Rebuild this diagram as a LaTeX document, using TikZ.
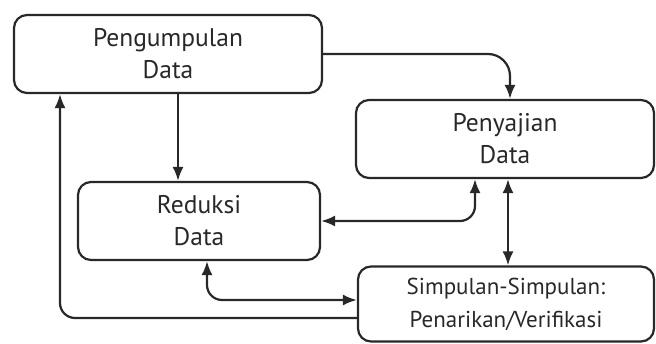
\documentclass[tikz,border=0pt]{standalone}
\usepackage{fontspec}
\setmainfont{PT Sans}
\usetikzlibrary{arrows.meta}

\definecolor{ink}{RGB}{40,40,40}

\tikzset{
  box/.style={draw=ink, line width=2.2pt, rounded corners=13pt, align=center,
    text=ink, font=\fontsize{25.5}{32}\selectfont, inner sep=0pt},
  smallbox/.style={box, font=\fontsize{23}{33}\selectfont},
  arr/.style={draw=ink, line width=2.2pt, -{Latex[length=14pt,width=11pt]}},
  darr/.style={draw=ink, line width=2.2pt, {Latex[length=14pt,width=11pt]}-{Latex[length=14pt,width=11pt]}}
}

\begin{document}
\begin{tikzpicture}[x=1pt,y=-1pt]
\useasboundingbox (0,0) rectangle (656,344);

% the four stages
\node[box, minimum width=308pt, minimum height=78pt] (peng) at (168,54) {Pengumpulan\\Data};
\node[box, minimum width=298pt, minimum height=78pt] (peny) at (505,139) {Penyajian\\Data};
\node[box, minimum width=242pt, minimum height=78pt] (red) at (199,221) {Reduksi\\Data};
\node[smallbox, minimum width=296pt, minimum height=75pt] (simp) at (506,304) {Simpulan-Simpulan:\\Penarikan/Verifikasi};

% connectors
\draw[arr, rounded corners=22pt] (peng.east) -| ([xshift=5pt]peny.north);
\draw[arr] ([xshift=10pt]peng.south) -- ([xshift=10pt]peng.south |- red.north);
\draw[darr, rounded corners=15pt] (red.east) -| ([xshift=-30pt]peny.south);
\draw[darr] ([xshift=3pt]peny.south) -- ([xshift=3pt]peny.south |- simp.north);
\draw[darr, rounded corners=15pt] ([yshift=4pt]simp.west) -| ([xshift=8pt]red.south);
\draw[arr, rounded corners=15pt] ([yshift=-14pt]simp.west) -| ([xshift=-108pt]peng.south);
\end{tikzpicture}
\end{document}
